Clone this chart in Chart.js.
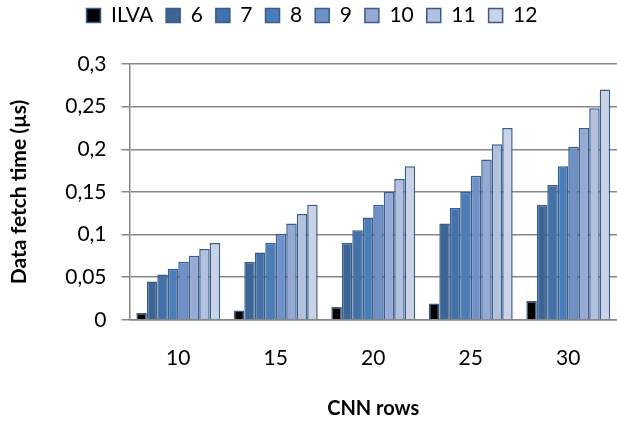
<!DOCTYPE html>
<html>
<head>
<meta charset="utf-8">
<script src="https://cdn.jsdelivr.net/npm/chart.js@4.4.0/dist/chart.umd.min.js"></script>
<style>
  html, body { margin: 0; padding: 0; background: #fff; }
  #wrap { width: 617px; height: 423px; }
</style>
</head>
<body>
<div id="wrap"><canvas id="fetchChart" width="617" height="423"></canvas></div>
<script>
// CNN rows on the x axis
const cnnRows = ['10', '15', '20', '25', '30'];

// data fetch time (µs), one array per series
const ilva = [0.008, 0.011, 0.015, 0.019, 0.022];
const s6 = [0.045, 0.068, 0.090, 0.113, 0.135];
const s7 = [0.053, 0.079, 0.105, 0.131, 0.158];
const s8 = [0.060, 0.090, 0.120, 0.150, 0.180];
const s9 = [0.068, 0.101, 0.135, 0.169, 0.203];
const s10 = [0.075, 0.113, 0.150, 0.188, 0.225];
const s11 = [0.083, 0.124, 0.165, 0.206, 0.248];
const s12 = [0.090, 0.135, 0.180, 0.225, 0.270];

const seriesNames = ['ILVA', '6', '7', '8', '9', '10', '11', '12'];
const seriesValues = [ilva, s6, s7, s8, s9, s10, s11, s12];
const seriesColors = ['#000000', '#3c6494', '#4371a9', '#4a7ebb', '#6f91c8', '#95a9d3', '#b1c1de', '#c9d2e6'];

const yTicks = [0, 0.05, 0.1, 0.15, 0.2, 0.25, 0.3];

const fontName = 'Lato, Calibri, sans-serif';
const gridGray = '#878787';

function makeDatasets() {
  return seriesNames.map((name, i) => ({
    label: name,
    data: seriesValues[i],
    backgroundColor: seriesColors[i],
    borderColor: '#385d8a',
    borderWidth: 1.5,
    borderSkipped: 'start',
    categoryPercentage: 0.86,
    barPercentage: 1.0,
  }));
}

// extra room below the legend, and nudge the legend up a bit
const legendGap = {
  id: 'legendGap',
  beforeInit(chart) {
    const origFit = chart.legend.fit;
    chart.legend.fit = function fit() {
      origFit.bind(chart.legend)();
      this.height += 20;
    };
  },
  afterLayout(chart) {
    chart.legend.top -= 8;
    chart.legend.bottom -= 8;
  },
};

const ctx = document.getElementById('fetchChart').getContext('2d');
new Chart(ctx, {
  type: 'bar',
  data: {
    labels: cnnRows,
    datasets: makeDatasets(),
  },
  plugins: [legendGap],
  options: {
    responsive: false,
    animation: false,
    layout: {
      padding: { left: 7, right: 0, top: 0, bottom: 2 },
    },
    plugins: {
      legend: {
        display: true,
        position: 'top',
        labels: {
          boxWidth: 14,
          boxHeight: 14,
          padding: 13,
          color: '#000',
          font: { family: fontName, size: 21 },
        },
      },
      tooltip: { enabled: false },
    },
    scales: {
      x: {
        grid: { display: true, drawOnChartArea: false, drawTicks: false },
        border: { display: true, color: gridGray, width: 1.5 },
        ticks: {
          padding: 26,
          color: '#000',
          font: { family: fontName, size: 21 },
        },
        title: {
          display: true,
          text: 'CNN rows',
          color: '#000',
          font: { family: fontName, size: 20, weight: 'bold' },
          padding: { top: 0, bottom: 0 },
        },
      },
      y: {
        min: 0,
        max: 0.3,
        afterBuildTicks: (axis) => {
          axis.ticks = yTicks.map((v) => ({ value: v }));
        },
        grid: {
          color: gridGray,
          lineWidth: 1.5,
          drawTicks: true,
          tickLength: 8,
        },
        border: { display: true, color: gridGray, width: 1.5 },
        ticks: {
          padding: 15,
          color: '#000',
          font: { family: fontName, size: 21 },
          callback: (v) => String(v).replace('.', ','),
        },
        title: {
          display: true,
          text: 'Data fetch time (µs)',
          color: '#000',
          font: { family: fontName, size: 21, weight: 'bold' },
          padding: { top: 0, bottom: 18 },
        },
      },
    },
  },
});
</script>
</body>
</html>
